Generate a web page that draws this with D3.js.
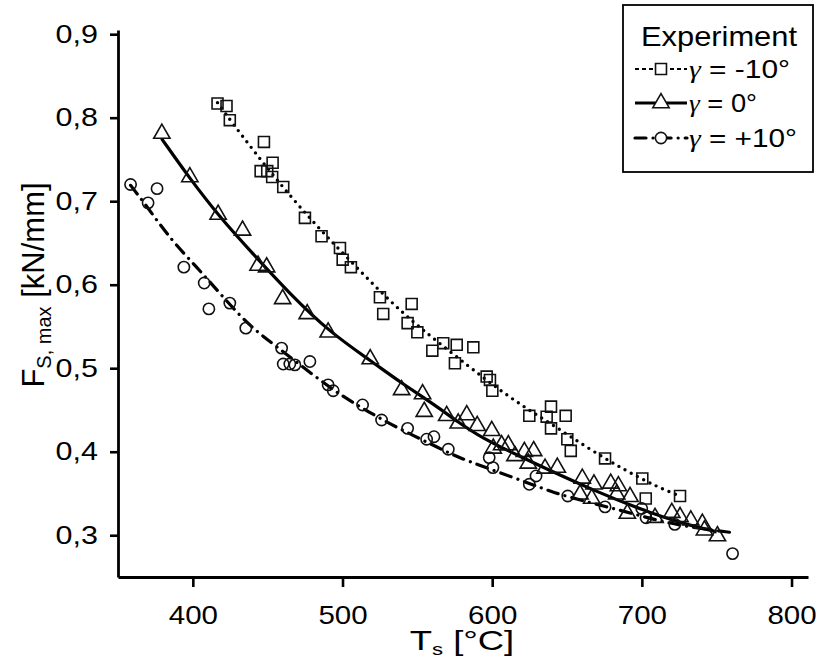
<!DOCTYPE html>
<html><head><meta charset="utf-8">
<script src="https://cdn.jsdelivr.net/npm/d3@7"></script>
<style>body{margin:0;background:#fff}svg{display:block}</style>
</head><body>
<script>
// ---- data ----
const xTicks = [400, 500, 600, 700, 800];
const yTicks = [0.3, 0.4, 0.5, 0.6, 0.7, 0.8, 0.9];

// gamma = -10° (squares)
const sqX = [416.5,422.5,424.7,447.5,453.3,445.3,449.7,453,460.4,474.9,486,498.3,500.1,505.6,525,546.2,527.2,543.5,550,567.3,560,576.3,587.4,575.1,596.3,598.5,600.1,624.8,639.3,636.4,649.1,639.3,650.2,652.5,675.4,700.3,702.6,725.5];
const sqY = [0.817,0.814,0.797,0.771,0.746,0.736,0.736,0.729,0.717,0.680,0.658,0.644,0.630,0.621,0.585,0.577,0.565,0.554,0.543,0.530,0.521,0.528,0.525,0.506,0.490,0.486,0.473,0.443,0.454,0.442,0.443,0.428,0.415,0.401,0.392,0.368,0.344,0.347];
// gamma = 0° (triangles)
const trX = [379.3,398,416.9,433.2,443.6,449.3,460,476.4,490.4,518.5,539.5,553.5,554.6,569.6,577.3,583,590,599.7,600.7,606.3,610.8,615.2,621.5,627.7,624.1,635.3,643.5,658.7,660.2,666.5,668,679.2,684.3,683.2,692.1,690.3,708.8,720,725.5,732.7,740.4,741.8,750.5];
const trY = [0.781,0.729,0.684,0.665,0.623,0.621,0.583,0.565,0.543,0.511,0.474,0.469,0.448,0.443,0.434,0.444,0.431,0.425,0.404,0.408,0.408,0.395,0.400,0.401,0.386,0.380,0.381,0.349,0.368,0.344,0.361,0.362,0.359,0.349,0.346,0.326,0.321,0.327,0.322,0.318,0.314,0.306,0.299];
// gamma = +10° (circles)
const ciX = [358.4,370.1,376.1,394,407.6,410.7,424.7,435.4,459.3,460.4,464.8,468.2,478.2,490.4,493.8,513.4,526.1,543.5,556.2,561.1,570.7,598,600.5,624.8,629.3,650.5,675.4,699.9,702.8,722,760.6];
const ciY = [0.720,0.698,0.715,0.621,0.602,0.571,0.578,0.548,0.524,0.505,0.505,0.504,0.508,0.480,0.473,0.456,0.438,0.428,0.415,0.418,0.403,0.393,0.381,0.361,0.371,0.347,0.334,0.332,0.321,0.313,0.278];

// fitted curves
const fitSqX = [416.5,426.7,440.8,455.9,471.5,488.2,506.1,524.5,542.8,561.8,585.2,603.4,622.6,641.5,664.2,687.6,710,725.5];
const fitSqY = [0.818,0.793,0.760,0.726,0.693,0.660,0.627,0.593,0.562,0.534,0.501,0.476,0.452,0.431,0.404,0.379,0.358,0.347];
const fitTrX = [379.1,398,418,438.1,464.8,491.6,518.8,539.5,558.4,578.5,591.8,618.6,672.1,701,723.3,750];
const fitTrY = [0.775,0.727,0.681,0.641,0.589,0.543,0.509,0.482,0.460,0.434,0.418,0.394,0.350,0.330,0.316,0.304];
const fitCiX = [358.4,367.9,376.8,388,404.7,420.3,438.1,456,481.6,499.4,517.2,535,567.3,578.5,625.3,640.8,663.2,685.4,707.7,730,761.2];
const fitCiY = [0.719,0.697,0.675,0.649,0.617,0.585,0.550,0.526,0.490,0.467,0.448,0.430,0.402,0.392,0.362,0.351,0.340,0.330,0.319,0.310,0.303];

const legendTitle = "Experiment";
const legendLabels = ["-10°", "0°", "+10°"];

// ---- drawing ----
const W = 819, H = 659;
const FONT = "'Liberation Sans', Arial, sans-serif";
const svg = d3.select("body").append("svg").attr("width", W).attr("height", H)
  .style("font-family", FONT);

const x = d3.scaleLinear().domain([350, 811]).range([118, 808]);
const y = d3.scaleLinear().domain([0.25, 0.905]).range([577, 30]);

const fmt = v => d3.format(".1f")(v).replace(".", ",");

// widen text horizontally to match the reference's wide lettering
function stretch(sel, f) {
  sel.each(function () {
    const L = this.getComputedTextLength();
    d3.select(this).attr("textLength", L * f).attr("lengthAdjust", "spacingAndGlyphs");
  });
}
function fitTo(sel, w) {
  sel.attr("textLength", w).attr("lengthAdjust", "spacingAndGlyphs");
}

// axes
const gx = svg.append("g").attr("transform", `translate(0,${y(0.25)})`)
  .call(d3.axisBottom(x).tickValues(xTicks).tickSize(10).tickPadding(14).tickSizeOuter(0));
const gy = svg.append("g").attr("transform", `translate(${x(350)},0)`)
  .call(d3.axisLeft(y).tickValues(yTicks).tickFormat(fmt).tickSize(8).tickPadding(12).tickSizeOuter(0));
[gx, gy].forEach(g => {
  g.select(".domain").attr("stroke", "#000").attr("stroke-width", 2.8);
  g.selectAll(".tick line").attr("stroke", "#000").attr("stroke-width", 2.6);
  g.selectAll(".tick text").attr("fill", "#000").style("font-size", "25px")
    .style("font-family", FONT);
});
gx.selectAll(".tick text").attr("dy", "0.9em");
stretch(gx.selectAll(".tick text"), 1.18);
stretch(gy.selectAll(".tick text"), 1.22);

// axis titles
const xt = svg.append("text").attr("x", 462).attr("y", 650).attr("text-anchor", "middle")
  .style("font-size", "28px");
xt.append("tspan").text("T");
xt.append("tspan").text("s").style("font-size", "17px").attr("dy", 5);
xt.append("tspan").text(" [°C]").attr("dy", -5);
stretch(xt, 1.3);

const yt = svg.append("text").attr("transform", "translate(44,285) rotate(-90)")
  .attr("text-anchor", "middle").style("font-size", "31px");
yt.append("tspan").text("F");
yt.append("tspan").text("S, max").style("font-size", "20px").attr("dy", 7);
yt.append("tspan").text(" [kN/mm]").attr("dy", -7);

// curves
const line = (xs, ys) => d3.line().curve(d3.curveBasis)(xs.map((v, i) => [x(v), y(ys[i])]));
svg.append("path").attr("d", line(fitSqX, fitSqY)).attr("fill", "none").attr("stroke", "#000")
  .attr("stroke-width", 3.4).attr("stroke-linecap", "round").attr("stroke-dasharray", "0 7");
svg.append("path").attr("d", line(fitTrX, fitTrY)).attr("fill", "none").attr("stroke", "#000")
  .attr("stroke-width", 3.2);
svg.append("path").attr("d", line(fitCiX, fitCiY)).attr("fill", "none").attr("stroke", "#000")
  .attr("stroke-width", 3.2).attr("stroke-linecap", "round").attr("stroke-dasharray", "11 7 0.1 7");

// markers
const mstroke = "#111", mw = 1.6;
const sqSym = d3.symbol().type(d3.symbolSquare).size(120);
const trSym = d3.symbol().type(d3.symbolTriangle).size(115);
const ciSym = d3.symbol().type(d3.symbolCircle).size(100);
function markers(xs, ys, sym) {
  svg.append("g").selectAll("path").data(xs).join("path")
    .attr("d", sym).attr("transform", (d, i) => `translate(${x(d)},${y(ys[i])})`)
    .attr("fill", "none").attr("stroke", mstroke).attr("stroke-width", mw);
}
markers(sqX, sqY, sqSym);
markers(trX, trY, trSym);
markers(ciX, ciY, ciSym);

// legend
const lg = svg.append("g");
lg.append("rect").attr("x", 623).attr("y", 5).attr("width", 190).attr("height", 167)
  .attr("fill", "#fff").attr("stroke", "#000").attr("stroke-width", 1.8);
const lt = lg.append("text").attr("x", 719).attr("y", 46).attr("text-anchor", "middle")
  .style("font-size", "28px").text(legendTitle);
fitTo(lt, 156);
const rowsY = [69, 103, 138];
const dashes = ["4 3", null, "11 7 0.1 7"];
const syms = [sqSym, trSym, ciSym];
const labW = [101, 68, 108];
legendLabels.forEach((lab, i) => {
  const ly = rowsY[i];
  const p = lg.append("line").attr("x1", 635).attr("x2", 687).attr("y1", ly).attr("y2", ly)
    .attr("stroke", "#000").attr("stroke-width", i === 0 ? 2 : 3.2);
  if (dashes[i]) p.attr("stroke-dasharray", dashes[i]).attr("stroke-linecap", i === 2 ? "round" : "butt");
  lg.append("path").attr("d", syms[i]).attr("transform", `translate(661,${ly})`)
    .attr("fill", "#fff").attr("stroke", mstroke).attr("stroke-width", mw);
  const t = lg.append("text").attr("x", 689).attr("y", ly + 9).style("font-size", "25px");
  t.append("tspan").text("γ").style("font-family", "'Liberation Serif', 'DejaVu Serif', serif")
    .style("font-style", "italic");
  t.append("tspan").text(" = " + lab);
  fitTo(t, labW[i]);
});
</script>
</body></html>
